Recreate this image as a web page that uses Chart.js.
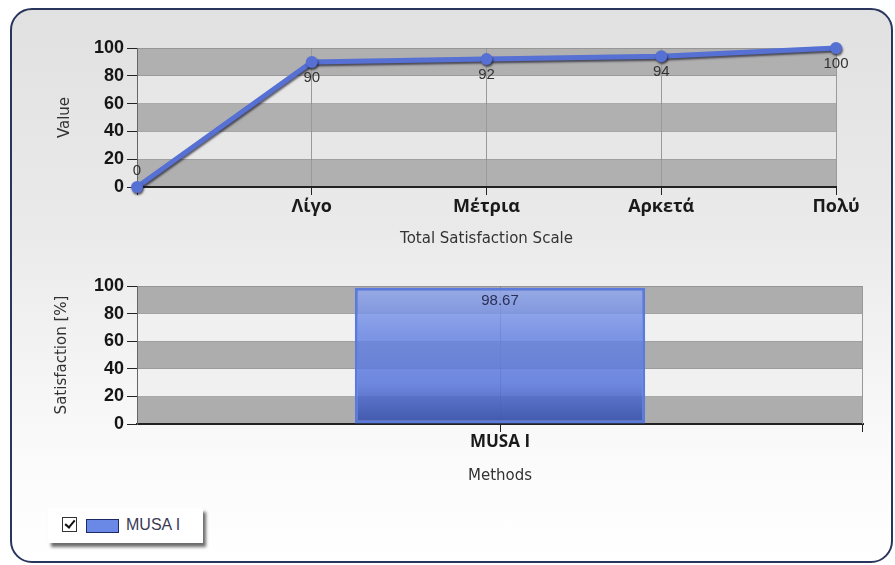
<!DOCTYPE html>
<html>
<head>
<meta charset="utf-8">
<script src="https://cdn.jsdelivr.net/npm/chart.js@4/dist/chart.umd.min.js"></script>
<style>
  html, body { margin: 0; padding: 0; background: #ffffff; }
  body { width: 895px; height: 565px; position: relative; overflow: hidden; }
  #frame {
    position: absolute; left: 10px; top: 8px; width: 879px; height: 551px;
    border: 2px solid #2a355e; border-radius: 22px;
    background: linear-gradient(to bottom, #e1e1e1 0%, #eaeaea 40%, #fafafa 80%, #ffffff 100%);
  }
  .cv { position: absolute; left: 0; }
  #top { top: 0; }
  #bottom { top: 255px; }
  #legend {
    position: absolute; left: 48px; top: 508px; width: 155px; height: 35px;
    background: #ffffff; box-shadow: 3px 4px 3px rgba(60,60,60,0.75);
  }
  #chk {
    position: absolute; left: 14px; top: 9px; width: 13px; height: 13px;
    border: 1px solid #333; background: #fff;
  }
  #chk::after {
    content: ""; position: absolute; left: 4px; top: 0px; width: 4px; height: 8px;
    border-right: 2px solid #111; border-bottom: 2px solid #111; transform: rotate(40deg);
  }
  #swatch {
    position: absolute; left: 38px; top: 11px; width: 31px; height: 12px;
    border: 1px solid #1d2a66; background: #6a89e6;
  }
  #ltext {
    position: absolute; left: 78px; top: 7px; font: 16px "Liberation Sans", Arial, sans-serif;
    color: #3a3a55; line-height: 19px;
  }
</style>
</head>
<body>
<div id="frame"></div>
<canvas id="top" class="cv" width="895" height="260"></canvas>
<canvas id="bottom" class="cv" width="895" height="245"></canvas>
<div id="legend"><div id="chk"></div><div id="swatch"></div><div id="ltext">MUSA I</div></div>
<script>
// ---- data ----
const scaleLabels = ['', 'Λίγο', 'Μέτρια', 'Αρκετά', 'Πολύ'];
const scaleValues = [0, 90, 92, 94, 100];
const methodLabels = ['MUSA I'];
const satisfactionValues = [98.67];
const valueTicks = [0, 20, 40, 60, 80, 100];
const seriesName = 'MUSA I';
const topXTitle = 'Total Satisfaction Scale';
const topYTitle = 'Value';
const bottomXTitle = 'Methods';
const bottomYTitle = 'Satisfaction [%]';

Chart.defaults.animation = false;
Chart.defaults.responsive = false;
Chart.defaults.plugins.legend.display = false;
Chart.defaults.plugins.tooltip.enabled = false;

function bandsPlugin(dark, light) {
  return {
    id: 'bands',
    beforeDraw(chart) {
      const {ctx, chartArea: a, scales: {y}} = chart;
      ctx.save();
      for (let i = 0; i < valueTicks.length - 1; i++) {
        const y0 = y.getPixelForValue(valueTicks[i]);
        const y1 = y.getPixelForValue(valueTicks[i + 1]);
        ctx.fillStyle = (i % 2 === 0) ? dark : light;
        ctx.fillRect(a.left, y1, a.right - a.left, y0 - y1);
      }
      ctx.restore();
    }
  };
}

const yTickFont = {family: '"Liberation Sans", Arial, sans-serif', size: 18, weight: 'bold'};
const xTickFont = {family: '"Open Sans", "DejaVu Sans", sans-serif', size: 18, weight: 'bold'};
const xTickFontB = {family: '"Open Sans", "DejaVu Sans", sans-serif', size: 17, weight: 'bold'};
const titleFont = {family: '"DejaVu Sans", sans-serif', size: 15};
const labelFont = '15px "Liberation Sans", Arial, sans-serif';

// ---- top line chart ----
const lineExtras = {
  id: 'lineExtras',
  beforeDatasetsDraw(chart) {
    const ctx = chart.ctx;
    ctx.save();
    ctx.shadowColor = 'rgba(20,20,40,0.65)';
    ctx.shadowOffsetX = 1;
    ctx.shadowOffsetY = 2;
    ctx.shadowBlur = 2;
  },
  afterDatasetsDraw(chart) {
    const ctx = chart.ctx;
    ctx.restore();
    const meta = chart.getDatasetMeta(0);
    const a = chart.chartArea;
    ctx.save();
    ctx.font = labelFont;
    ctx.fillStyle = '#333';
    ctx.textAlign = 'center';
    ctx.textBaseline = 'middle';
    meta.data.forEach((pt, i) => {
      let ty = pt.y + 16;
      if (ty > a.bottom - 6) ty = pt.y - 16;
      ctx.fillText(String(scaleValues[i]), pt.x, ty);
    });
    ctx.restore();
  }
};

new Chart(document.getElementById('top'), {
  type: 'line',
  data: {
    labels: scaleLabels,
    datasets: [{
      label: seriesName,
      data: scaleValues,
      borderColor: '#5670d4',
      backgroundColor: '#5670d4',
      borderWidth: 5,
      pointRadius: 6,
      pointBorderWidth: 0,
      pointBackgroundColor: '#5670d4',
      tension: 0,
      clip: false
    }]
  },
  options: {
    layout: {padding: {top: 48, right: 59, left: 0, bottom: 0}},
    scales: {
      x: {
        type: 'category',
        offset: false,
        grid: {color: '#9a9a9a', tickColor: '#222', tickLength: 8, drawOnChartArea: true},
        border: {color: '#222', width: 2},
        ticks: {font: xTickFont, color: '#1a1a1a', padding: 1, maxRotation: 0, autoSkip: false},
        title: {display: true, text: topXTitle, font: titleFont, color: '#333', padding: {top: 0, bottom: 12}},
        afterFit(s) { s.height = 73; }
      },
      y: {
        min: 0, max: 100,
        afterBuildTicks(s) { s.ticks = valueTicks.map(v => ({value: v})); },
        grid: {color: 'rgba(130,130,130,0.55)', tickColor: '#222', tickLength: 10},
        border: {color: '#666', width: 1},
        ticks: {font: yTickFont, color: '#151515', padding: 3},
        title: {display: true, text: topYTitle, font: titleFont, color: '#333', padding: {top: 56, bottom: 0}},
        afterFit(s) { s.width = 137; }
      }
    }
  },
  plugins: [bandsPlugin('#b0b0b0', '#e7e7e7'), lineExtras]
});

// ---- bottom bar chart ----
const barExtras = {
  id: 'barExtras',
  afterDatasetsDraw(chart) {
    const ctx = chart.ctx;
    const meta = chart.getDatasetMeta(0);
    const a = chart.chartArea;
    ctx.save();
    ctx.strokeStyle = '#999';
    ctx.lineWidth = 1;
    ctx.beginPath();
    ctx.moveTo(a.right - 0.5, a.top);
    ctx.lineTo(a.right - 0.5, a.bottom);
    ctx.stroke();
    ctx.strokeStyle = '#222';
    ctx.beginPath();
    ctx.moveTo(a.right - 0.5, a.bottom);
    ctx.lineTo(a.right - 0.5, a.bottom + 8);
    ctx.stroke();
    ctx.font = labelFont;
    ctx.fillStyle = '#2a2f55';
    ctx.textAlign = 'center';
    ctx.textBaseline = 'middle';
    meta.data.forEach((bar, i) => {
      ctx.fillText(satisfactionValues[i].toFixed(2), bar.x, bar.y + 13);
    });
    ctx.restore();
  }
};

new Chart(document.getElementById('bottom'), {
  type: 'bar',
  data: {
    labels: methodLabels,
    datasets: [{
      label: seriesName,
      data: satisfactionValues,
      backgroundColor(c) {
        const area = c.chart.chartArea;
        if (!area) return 'rgba(90,120,216,0.85)';
        const g = c.chart.ctx.createLinearGradient(0, area.top, 0, area.bottom);
        g.addColorStop(0, 'rgba(150,172,240,0.85)');
        g.addColorStop(0.35, 'rgba(100,130,225,0.82)');
        g.addColorStop(0.7, 'rgba(88,118,220,0.85)');
        g.addColorStop(1, 'rgba(55,80,170,0.92)');
        return g;
      },
      borderColor: '#5a7ade',
      borderWidth: 3,
      borderSkipped: false,
      barPercentage: 0.4,
      categoryPercentage: 1
    }]
  },
  options: {
    layout: {padding: {top: 31, right: 32, left: 0, bottom: 0}},
    scales: {
      x: {
        type: 'category',
        offset: true,
        grid: {offset: false, color: 'rgba(120,120,120,0.6)', tickColor: '#222', tickLength: 8},
        border: {color: '#222', width: 2},
        ticks: {font: xTickFontB, color: '#1a1a1a', padding: 0, maxRotation: 0},
        title: {display: true, text: bottomXTitle, font: titleFont, color: '#333', padding: {top: 0, bottom: 15}},
        afterFit(s) { s.height = 76; }
      },
      y: {
        min: 0, max: 100,
        afterBuildTicks(s) { s.ticks = valueTicks.map(v => ({value: v})); },
        grid: {color: 'rgba(130,130,130,0.55)', tickColor: '#222', tickLength: 10},
        border: {color: '#666', width: 1},
        ticks: {font: yTickFont, color: '#151515', padding: 3},
        title: {display: true, text: bottomYTitle, font: titleFont, color: '#333', padding: {top: 53, bottom: 0}},
        afterFit(s) { s.width = 137; }
      }
    }
  },
  plugins: [bandsPlugin('#adadad', '#f0f0f0'), barExtras]
});
</script>
</body>
</html>
